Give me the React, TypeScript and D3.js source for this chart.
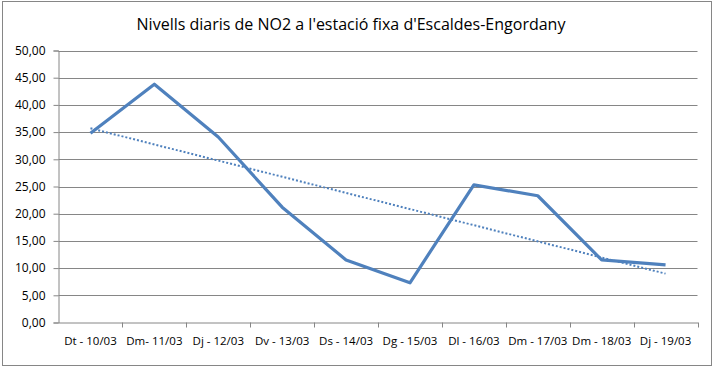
import React, { useEffect, useRef } from "react";
import * as d3 from "d3";

const days = [
  "Dt - 10/03",
  "Dm- 11/03",
  "Dj - 12/03",
  "Dv - 13/03",
  "Ds - 14/03",
  "Dg - 15/03",
  "Dl - 16/03",
  "Dm - 17/03",
  "Dm - 18/03",
  "Dj - 19/03",
];
const no2 = [34.8, 43.8, 34.1, 21.2, 11.5, 7.3, 25.3, 23.3, 11.5, 10.6];
const yTicks = [0, 5, 10, 15, 20, 25, 30, 35, 40, 45, 50];
const title = "Nivells diaris de NO2 a l'estació fixa d'Escaldes-Engordany";

const W = 714;
const H = 368;

const App = () => {
  const ref = useRef<SVGSVGElement>(null);

  useEffect(() => {
    const svg = d3.select(ref.current);
    svg.selectAll("*").remove();

    const margin = { top: 50.5, left: 58.5, bottom: 45.5, right: 16.5 };
    const font = "Open Sans, sans-serif";

    svg
      .append("rect")
      .attr("x", 2.5)
      .attr("y", 1.5)
      .attr("width", W - 5)
      .attr("height", H - 4)
      .attr("fill", "#fff")
      .attr("stroke", "#868686");

    const x = d3
      .scaleBand()
      .domain(days)
      .range([margin.left, W - margin.right]);
    const y = d3
      .scaleLinear()
      .domain([0, 50])
      .range([H - margin.bottom, margin.top]);

    // gridlines
    svg
      .append("g")
      .selectAll("line")
      .data(yTicks.slice(1))
      .join("line")
      .attr("x1", margin.left)
      .attr("x2", W - margin.right)
      .attr("y1", (d) => Math.round(y(d)) + 0.5)
      .attr("y2", (d) => Math.round(y(d)) + 0.5)
      .attr("stroke", "#868686");

    const yAxis = svg
      .append("g")
      .attr("transform", `translate(${margin.left},0)`)
      .call(
        d3
          .axisLeft(y)
          .tickValues(yTicks)
          .tickSize(5)
          .tickPadding(8)
          .tickFormat((d) => d3.format(".2f")(d as number).replace(".", ","))
      );
    yAxis.select(".domain").attr("stroke", "#868686");
    yAxis.selectAll(".tick line").attr("stroke", "#868686");
    yAxis
      .selectAll(".tick text")
      .attr("fill", "#000")
      .style("font-family", font)
      .style("font-size", "12px");

    const xAxis = svg
      .append("g")
      .attr("transform", `translate(0,${H - margin.bottom})`)
      .call(d3.axisBottom(x).tickSize(0).tickPadding(14));
    xAxis.select(".domain").attr("stroke", "#868686");
    xAxis
      .selectAll(".tick text")
      .attr("fill", "#000")
      .style("font-family", font)
      .style("font-size", "11.5px");

    // band boundary ticks
    svg
      .append("g")
      .selectAll("line")
      .data(days)
      .join("line")
      .attr("x1", (d) => Math.round(x(d)! + x.bandwidth()) + 0.5)
      .attr("x2", (d) => Math.round(x(d)! + x.bandwidth()) + 0.5)
      .attr("y1", H - margin.bottom)
      .attr("y2", H - margin.bottom + 5)
      .attr("stroke", "#868686");

    const cx = (i: number) => x(days[i])! + x.bandwidth() / 2;

    // linear trendline
    const n = no2.length;
    const mx = d3.mean(no2.map((_, i) => i))!;
    const my = d3.mean(no2)!;
    const slope =
      d3.sum(no2.map((v, i) => (i - mx) * (v - my))) /
      d3.sum(no2.map((_, i) => (i - mx) ** 2));
    const trend = [0, n - 1].map((i) => [cx(i), y(my + slope * (i - mx))]);
    svg
      .append("path")
      .attr("d", d3.line()(trend as [number, number][]))
      .attr("fill", "none")
      .attr("stroke", "#4F81BD")
      .attr("stroke-width", 2)
      .attr("stroke-dasharray", "2,2");

    svg
      .append("path")
      .datum(no2)
      .attr(
        "d",
        d3
          .line<number>()
          .x((_, i) => cx(i))
          .y((d) => y(d))
      )
      .attr("fill", "none")
      .attr("stroke", "#4F81BD")
      .attr("stroke-width", 3.2)
      .attr("stroke-linejoin", "round");

    svg
      .append("text")
      .attr("x", 351)
      .attr("y", 30)
      .attr("text-anchor", "middle")
      .style("font-family", font)
      .style("font-size", "16px")
      .text(title);
  }, []);

  return (
    <svg
      ref={ref}
      width={W}
      height={H}
      style={{ position: "absolute", left: 0, top: 0 }}
    />
  );
};

export default App;
